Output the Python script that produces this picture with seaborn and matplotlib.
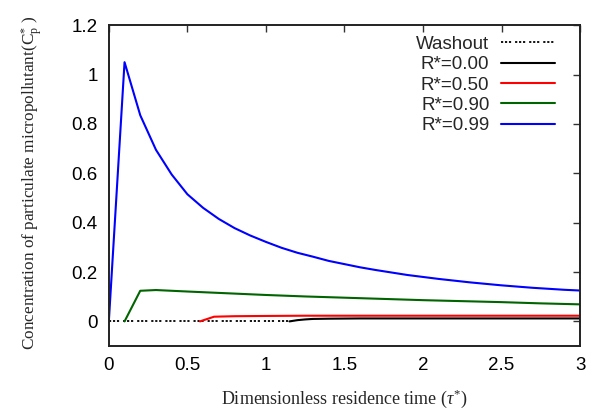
import matplotlib
matplotlib.use("Agg")
import matplotlib.pyplot as plt
import seaborn as sns
import numpy as np

# ---- data ----
washout_t = [0.0, 1.15]
washout_c = [0.0, 0.0]

r000_t = [1.15, 1.2, 1.25, 1.3, 1.4, 1.6, 2.0, 2.5, 3.0]
r000_c = [0.0, 0.005, 0.008, 0.010, 0.011, 0.012, 0.012, 0.012, 0.012]

r050_t = [0.58, 0.67, 0.8, 1.0, 1.25, 1.5, 2.0, 2.5, 3.0]
r050_c = [0.0, 0.019, 0.021, 0.022, 0.023, 0.023, 0.023, 0.023, 0.023]

r090_t = [0.1, 0.2, 0.3, 0.5, 0.75, 1.0, 1.25, 1.5, 1.75, 2.0, 2.25, 2.5, 2.75, 3.0]
r090_c = [0.0, 0.124, 0.127, 0.121, 0.114, 0.107, 0.101, 0.096, 0.091, 0.086,
          0.082, 0.078, 0.073, 0.069]

r099_t = [0.0, 0.1, 0.2, 0.3, 0.4, 0.5, 0.6, 0.7, 0.8, 0.9, 1.0, 1.1, 1.2, 1.3,
          1.4, 1.5, 1.6, 1.7, 1.8, 1.9, 2.0, 2.1, 2.2, 2.3, 2.4, 2.5, 2.6, 2.7,
          2.8, 2.9, 3.0]
r099_c = [0.0, 1.05, 0.835, 0.695, 0.595, 0.515, 0.46, 0.415, 0.378, 0.348,
          0.322, 0.298, 0.278, 0.262, 0.245, 0.232, 0.219, 0.208, 0.198, 0.188,
          0.18, 0.172, 0.165, 0.158, 0.152, 0.146, 0.141, 0.136, 0.132, 0.128,
          0.125]

x_ticks = [0, 0.5, 1, 1.5, 2, 2.5, 3]
x_tick_labels = ["0", "0.5", "1", "1.5", "2", "2.5", "3"]
y_ticks = [0, 0.2, 0.4, 0.6, 0.8, 1.0, 1.2]
y_tick_labels = ["0", "0.2", "0.4", "0.6", "0.8", "1", "1.2"]

sns.set_theme(style="white")
plt.rcParams["font.family"] = ["Liberation Sans", "DejaVu Sans"]
plt.rcParams["mathtext.fontset"] = "custom"
plt.rcParams["mathtext.rm"] = "Liberation Serif"
plt.rcParams["mathtext.it"] = "Liberation Serif:italic"

fig = plt.figure(figsize=(5.98, 4.12), dpi=100)
ax = fig.add_axes([0.182, 0.160, 0.788, 0.779])

lw = 1.5
sns.lineplot(x=washout_t, y=washout_c, ax=ax, color="black", lw=1.3,
             linestyle=(0, (1.2, 1.0, 1.2, 1.0, 1.2, 2.2)), label="Washout")
sns.lineplot(x=r000_t, y=r000_c, ax=ax, color="black", lw=lw, label="R*=0.00")
sns.lineplot(x=r050_t, y=r050_c, ax=ax, color="#ff0000", lw=lw, label="R*=0.50")
sns.lineplot(x=r090_t, y=r090_c, ax=ax, color="#006400", lw=lw, label="R*=0.90")
sns.lineplot(x=r099_t, y=r099_c, ax=ax, color="#0000ff", lw=lw, label="R*=0.99")

ax.set_xlim(0, 3)
ax.set_ylim(-0.1, 1.2)
ax.set_xticks(x_ticks)
ax.set_xticklabels(x_tick_labels)
ax.set_yticks(y_ticks)
ax.set_yticklabels(y_tick_labels)
ax.tick_params(axis="both", direction="in", length=5, width=1.0, color="#333333",
               labelsize=13.5, top=True, right=True, pad=8, labelcolor="black")

for s in ax.spines.values():
    s.set_visible(True)
    s.set_linewidth(1.4)
    s.set_color("#222222")

serif = ["Liberation Serif", "DejaVu Serif"]
ax.set_xlabel(r"Dimensionless residence time ($\tau^{*}$)", family=serif,
              fontsize=13)
ax.set_ylabel(r"Concentration of particulate micropollutant($\mathrm{C_p^{*}}$ )",
              family=serif, fontsize=12.4)
ax.xaxis.set_label_coords(0.5, -0.13)
ax.yaxis.set_label_coords(-0.136, 0.51)

leg = ax.legend(loc="upper right", frameon=False, markerfirst=False,
                fontsize=13.5, handlelength=2.9, labelspacing=0.17,
                handletextpad=0.6, borderaxespad=0.0,
                bbox_to_anchor=(0.963, 0.99))

fig.savefig("out.png", dpi=100)
